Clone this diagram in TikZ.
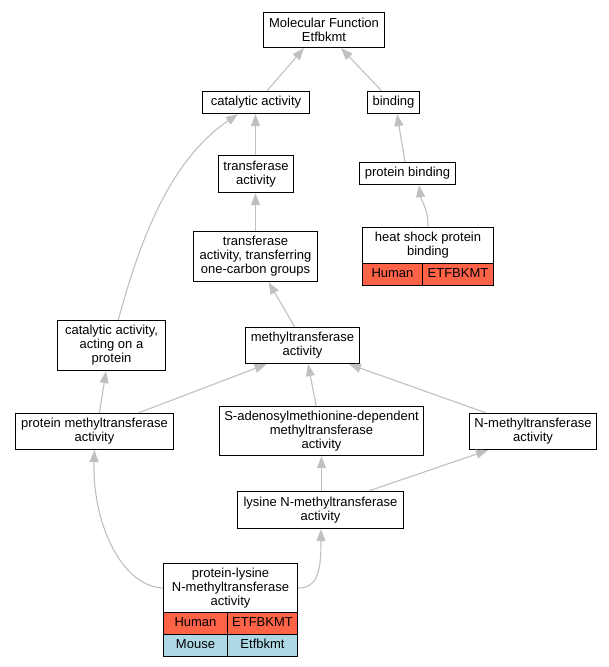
\documentclass[tikz,border=0pt]{standalone}
\usepackage{fontspec}
\setmainfont{Liberation Sans}
\usetikzlibrary{arrows.meta}
\definecolor{edgegray}{HTML}{C0C0C0}
\definecolor{humanred}{HTML}{FF6347}
\definecolor{mouseblue}{HTML}{ADD8E6}
\tikzset{
  box/.style={draw=black, line width=1.3pt, fill=white, align=center, inner sep=0pt,
    font=\fontsize{13}{14}\selectfont},
  oneline/.style={box, text height=9.6pt, text depth=2.8pt},
  humancell/.style={oneline, fill=humanred},
  mousecell/.style={oneline, fill=mouseblue},
  edge/.style={draw=edgegray, line width=1.1pt, -{Triangle[length=12pt,width=9pt,fill=edgegray]}}
}
\begin{document}
\begin{tikzpicture}[x=1pt,y=-1pt]
\useasboundingbox (0,0) rectangle (609,667);
% nodes
\node[box, minimum width=121pt, minimum height=35pt] (mf) at (324,30) {Molecular Function\\Etfbkmt};
\node[oneline, minimum width=107pt, minimum height=22pt] (cat) at (256,102.5) {catalytic activity};
\node[oneline, minimum width=52pt, minimum height=22pt] (bind) at (393.5,102.5) {binding};
\node[box, minimum width=75pt, minimum height=37pt] (tra) at (256,174) {transferase\\activity};
\node[oneline, minimum width=96pt, minimum height=22pt] (pb) at (407.5,173.5) {protein binding};
\node[box, minimum width=131pt, minimum height=36pt] (hs) at (428,245.5) {heat shock protein\\binding};
\node[humancell, minimum width=60pt, minimum height=22pt] (hsH) at (392.5,274.5) {Human};
\node[humancell, minimum width=71pt, minimum height=22pt] (hsE) at (458,274.5) {ETFBKMT};
\node[box, minimum width=124pt, minimum height=50pt] (oc) at (255.5,256.5) {transferase\\activity, transferring\\one-carbon groups};
\node[box, minimum width=108pt, minimum height=50pt] (cap) at (111.5,345.5) {catalytic activity,\\acting on a\\protein};
\node[box, minimum width=114pt, minimum height=36pt] (mt) at (302.5,345.5) {methyltransferase\\activity};
\node[box, minimum width=158pt, minimum height=36pt] (pm) at (94.5,431.5) {protein methyltransferase\\activity};
\node[box, minimum width=204pt, minimum height=49pt] (sam) at (321.5,431) {S-adenosylmethionine-dependent\\methyltransferase\\activity};
\node[box, minimum width=127pt, minimum height=36pt] (nm) at (533,431.5) {N-methyltransferase\\activity};
\node[box, minimum width=166pt, minimum height=37pt] (lys) at (320.5,510) {lysine N-methyltransferase\\activity};
\node[box, minimum width=134pt, minimum height=49pt] (pl) at (230.5,588) {protein-lysine\\N-methyltransferase\\activity};
\node[humancell, minimum width=64pt, minimum height=22pt] (plH) at (195.5,623.5) {Human};
\node[humancell, minimum width=70pt, minimum height=22pt] (plE) at (262.5,623.5) {ETFBKMT};
\node[mousecell, minimum width=64pt, minimum height=22pt] (plM) at (195.5,645.5) {Mouse};
\node[mousecell, minimum width=70pt, minimum height=22pt] (plG) at (262.5,645.5) {Etfbkmt};
% edges
\draw[edge] ([xshift=11pt]cat.north) -- ([xshift=-20pt]mf.south);
\draw[edge] ([xshift=-11.8pt]bind.north) -- ([xshift=17pt]mf.south);
\draw[edge] ([xshift=-0.5pt]tra.north) -- ([xshift=-0.5pt]tra.north |- cat.south);
\draw[edge] ([xshift=6.8pt]cap.north) .. controls (140,240) and (170,160) .. ([xshift=-18pt]cat.south);
\draw[edge] (oc.north) -- (oc.north |- tra.south);
\draw[edge] ([xshift=-2.5pt]pb.north) -- ([xshift=3.5pt]bind.south);
\draw[edge] (hs.north) .. controls (428,208) and (421,200) .. ([xshift=11.5pt]pb.south);
\draw[edge] ([xshift=-7.8pt]mt.north) -- ([xshift=13.1pt]oc.south);
\draw[edge] ([xshift=5pt]pm.north) -- ([xshift=-5.5pt]cap.south);
\draw[edge] ([xshift=44.1pt]pm.north) -- ([xshift=-36pt]mt.south);
\draw[edge] ([xshift=-5.3pt]sam.north) -- ([xshift=5.6pt]mt.south);
\draw[edge] ([xshift=-47pt]nm.north) -- ([xshift=46.5pt]mt.south);
\draw[edge] (lys.north -| sam.south) -- (sam.south);
\draw[edge] ([xshift=48.4pt]lys.north) -- ([xshift=-45pt]nm.south);
\draw[edge] (pl.west) .. controls (120,586) and (92,520) .. (pm.south);
\draw[edge] (pl.east) .. controls (318,588) and (321,570) .. ([xshift=0.5pt]lys.south);
\end{tikzpicture}
\end{document}
